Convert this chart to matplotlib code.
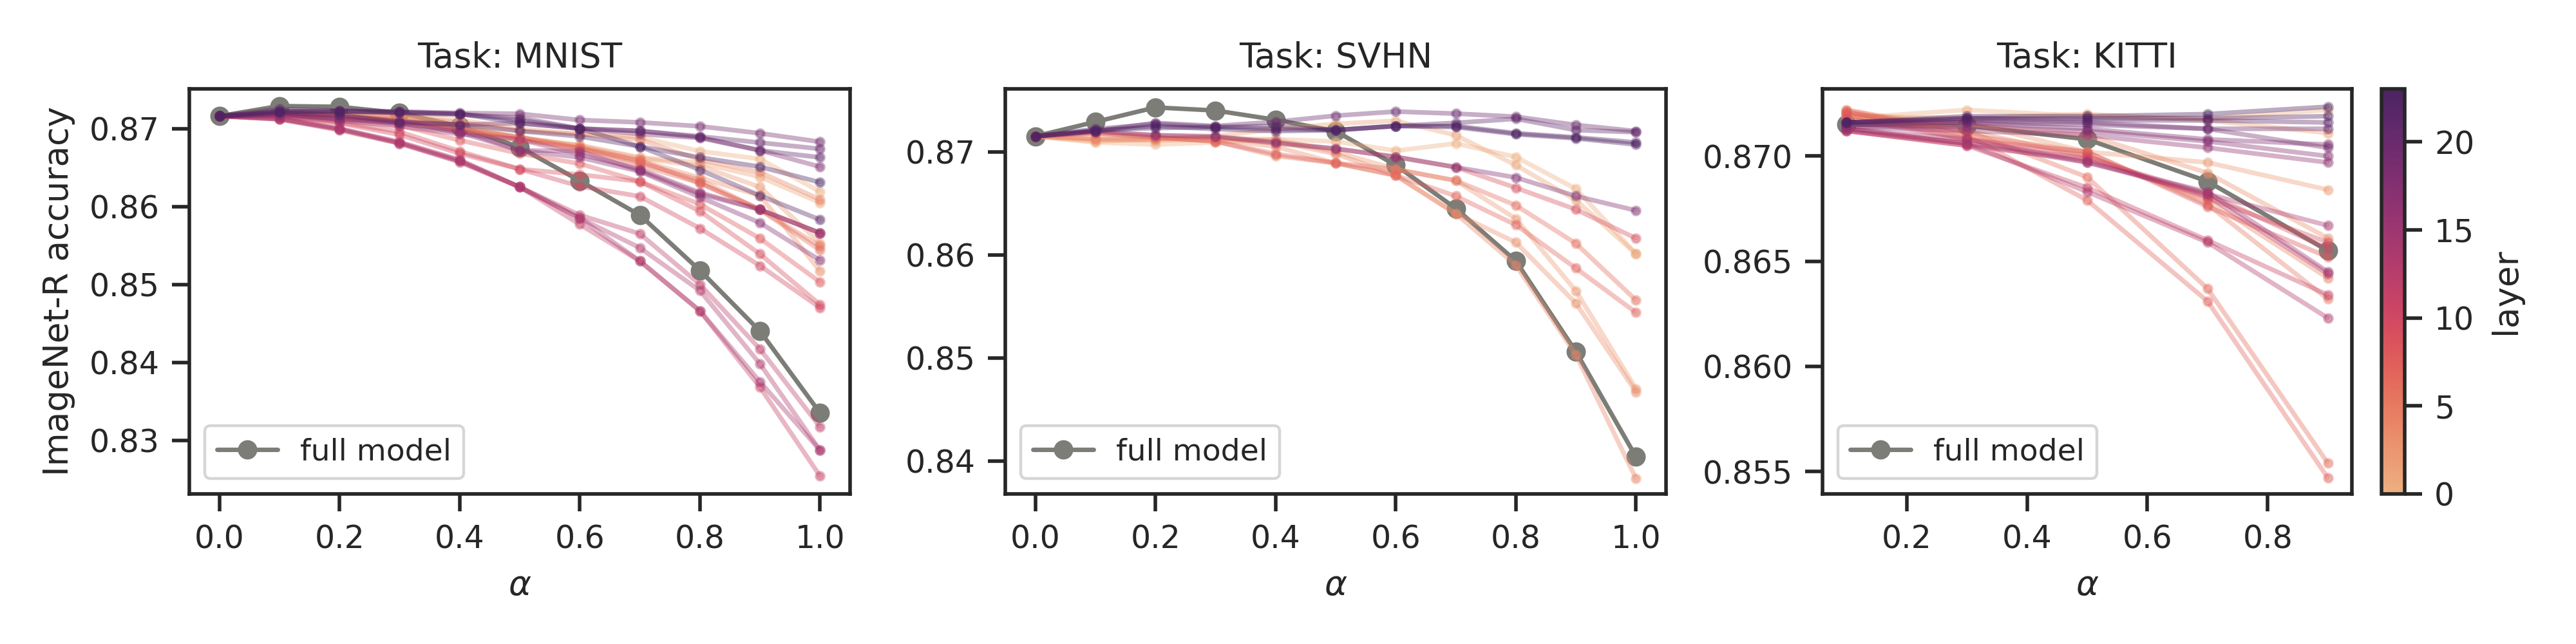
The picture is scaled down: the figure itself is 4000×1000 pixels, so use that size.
import matplotlib
matplotlib.use('Agg')
import matplotlib.pyplot as plt
import numpy as np
import seaborn as sns

sns.set_theme(context='paper', style='ticks')

#-----data-----#
alpha_mnist = [0.0, 0.1, 0.2, 0.3, 0.4, 0.5, 0.6, 0.7, 0.8, 0.9, 1.0]
alpha_svhn = [0.0, 0.1, 0.2, 0.3, 0.4, 0.5, 0.6, 0.7, 0.8, 0.9, 1.0]
alpha_kitti = [0.1, 0.3, 0.5, 0.7, 0.9]

full_mnist = [.8716, .8729, .8728, .8720, .8703, .8676, .8633, .8589, .8518, .8440, .8335]
full_svhn = [.8715, .8729, .8743, .8740, .8731, .8720, .8687, .8645, .8594, .8506, .8404]
full_kitti = [.8715, .87145, .8708, .8688, .8655]

# layer -> accuracy per alpha
layers_mnist = {
    0: [.8716, .8722, .8720, .8718, .8711, .8700, .8693, .8689, .8671, .8661, .8619],
    1: [.8716, .8720, .8718, .8715, .8704, .8688, .8679, .8663, .8656, .8638, .8605],
    2: [.8716, .8720, .8717, .8712, .8702, .8689, .8678, .8662, .8652, .8625, .8553],
    3: [.8716, .8719, .8716, .8711, .8700, .8688, .8677, .8659, .8637, .8614, .8517],
    4: [.8716, .8720, .8718, .8716, .8708, .8697, .8693, .8686, .8660, .8644, .8609],
    5: [.8716, .8718, .8715, .8710, .8698, .8686, .8675, .8656, .8634, .8596, .8549],
    6: [.8716, .8718, .8714, .8709, .8696, .8686, .8674, .8653, .8630, .8596, .8544],
    7: [.8716, .8719, .8716, .8711, .8700, .8689, .8675, .8659, .8630, .8596, .8566],
    8: [.8716, .8717, .8712, .8704, .8685, .8668, .8655, .8632, .8603, .8559, .8503],
    9: [.8716, .8716, .8708, .8696, .8671, .8648, .8641, .8632, .8594, .8539, .8474],
    10: [.8716, .8716, .8707, .8692, .8668, .8648, .8626, .8613, .8572, .8524, .8470],
    11: [.8716, .8712, .8698, .8681, .8657, .8625, .8577, .8530, .8466, .8368, .8254],
    12: [.8716, .8713, .8700, .8683, .8660, .8625, .8589, .8565, .8500, .8417, .8317],
    13: [.8716, .8713, .8700, .8682, .8659, .8625, .8585, .8547, .8492, .8398, .8287],
    14: [.8716, .8712, .8699, .8681, .8658, .8625, .8585, .8530, .8466, .8375, .8287],
    15: [.8716, .8716, .8710, .8703, .8693, .8686, .8667, .8648, .8618, .8596, .8566],
    16: [.8716, .8718, .8712, .8707, .8698, .8672, .8671, .8646, .8616, .8596, .8566],
    17: [.8716, .8718, .8713, .8707, .8695, .8672, .8663, .8645, .8612, .8579, .8531],
    18: [.8716, .8720, .8716, .8709, .8705, .8707, .8700, .8693, .8688, .8672, .8651],
    19: [.8716, .8722, .8723, .8722, .8720, .8719, .8711, .8708, .8703, .8694, .8683],
    20: [.8716, .8722, .8722, .8720, .8718, .8714, .8700, .8697, .8690, .8682, .8674],
    21: [.8716, .8725, .8723, .8721, .8719, .8711, .8700, .8697, .8689, .8672, .8663],
    22: [.8716, .8720, .8718, .8708, .8705, .8697, .8690, .8677, .8647, .8614, .8583],
    23: [.8716, .8722, .8722, .8721, .8719, .8707, .8700, .8677, .8663, .8651, .8631],
}

layers_svhn = {
    0: [.8715, .8709, .8707, .8709, .8712, .8710, .8701, .8708, .8695, .8664, .8601],
    1: [.8715, .8710, .8712, .8715, .8722, .8727, .8730, .8716, .8687, .8653, .8601],
    2: [.8715, .8712, .8712, .8713, .8712, .8700, .8683, .8672, .8635, .8565, .8470],
    3: [.8715, .8712, .8711, .8712, .8705, .8689, .8677, .8640, .8612, .8553, .8467],
    4: [.8715, .8713, .8713, .8714, .8710, .8698, .8677, .8640, .8590, .8503, .8383],
    6: [.8715, .8718, .8714, .8710, .8696, .8689, .8683, .8672, .8648, .8611, .8556],
    7: [.8715, .8718, .8714, .8710, .8698, .8689, .8677, .8657, .8629, .8587, .8544],
    9: [.8715, .8719, .8716, .8714, .8708, .8703, .8695, .8685, .8665, .8644, .8616],
    18: [.8715, .8720, .8716, .8715, .8709, .8703, .8695, .8685, .8675, .8657, .8643],
    20: [.8715, .8720, .8728, .8725, .8729, .8735, .8739, .8737, .8734, .8726, .8720],
    21: [.8715, .8722, .8727, .8724, .8722, .8721, .8725, .8728, .8732, .8721, .8719],
    22: [.8715, .8721, .8723, .8724, .8725, .8721, .8725, .8725, .8718, .8714, .8709],
    23: [.8715, .8720, .8725, .8722, .8720, .8721, .8725, .8724, .8717, .8713, .8707],
}

layers_kitti = {
    0: [.8718, .8722, .8719, .8718, .8722],
    1: [.8719, .8718, .8720, .8717, .8711],
    2: [.8720, .8716, .8702, .8697, .8684],
    3: [.8719, .8715, .8710, .8692, .8661],
    4: [.8722, .8712, .8700, .8679, .8642],
    5: [.8722, .8710, .8702, .8677, .8632],
    6: [.8721, .8712, .8690, .8637, .8554],
    7: [.8721, .8710, .8679, .8631, .8547],
    8: [.8720, .8708, .8702, .8676, .8652],
    9: [.8718, .8708, .8700, .8680, .8659],
    10: [.8713, .8706, .8699, .8682, .8656],
    11: [.8712, .8705, .8685, .8660, .8634],
    12: [.8712, .8705, .8698, .8681, .8644],
    13: [.8712, .8706, .8683, .8659, .8623],
    14: [.8713, .8706, .8697, .8682, .8667],
    15: [.8713, .8708, .8697, .8683, .8645],
    16: [.8714, .8712, .8710, .8704, .8697],
    17: [.8714, .8714, .8712, .8707, .8700],
    18: [.8715, .8716, .8713, .8708, .87055],
    19: [.8716, .8717, .8716, .8713, .8704],
    20: [.8716, .8716, .8715, .8713, .8713],
    21: [.8716, .8718, .8717, .8717, .8716],
    22: [.8716, .8718, .8718, .8718, .8719],
    23: [.8716, .8719, .8719, .8720, .87235],
}

tasks = ['MNIST', 'SVHN', 'KITTI']
alphas = [alpha_mnist, alpha_svhn, alpha_kitti]
fulls = [full_mnist, full_svhn, full_kitti]
layers = [layers_mnist, layers_svhn, layers_kitti]

GREY = '#7d7d78'
cmap = sns.color_palette('flare', as_cmap=True)
norm = plt.Normalize(0, 23)

#-----figure and axes-----#
fig = plt.figure(figsize=(10, 2.5), dpi=400)
W, H = 4000, 1000
boxes = [(294, 1320), (1561, 2587), (2830, 3652)]
top, bottom = 138, 767
ylims = [(0.8231, 0.8751), (0.8368, 0.8761), (0.85393, 0.8732)]

for i in range(3):
    x0, x1 = boxes[i]
    ax = fig.add_axes([x0 / W, 1 - bottom / H, (x1 - x0) / W, (bottom - top) / H])
    ax.plot(alphas[i], fulls[i], '-o', color=GREY, lw=1.25, ms=5.4, mew=0, label='full model', zorder=2)
    for layer, acc in layers[i].items():
        ax.plot(alphas[i], acc, '-o', color=cmap(norm(layer)), lw=1.3, ms=2.2, mew=0.8,
                alpha=0.38, zorder=3)
    ax.set_ylim(*ylims[i])
    ax.set_title('Task: ' + tasks[i])
    ax.set_xlabel(r'$\alpha$')
    ax.legend(loc='lower left', handletextpad=0.75, fontsize=8.5)
    if i == 0:
        ax.set_ylabel('ImageNet-R accuracy')
        ax.set_yticks([0.83, 0.84, 0.85, 0.86, 0.87])
    elif i == 1:
        ax.set_yticks([0.84, 0.85, 0.86, 0.87])
    else:
        ax.set_yticks([0.855, 0.860, 0.865, 0.870])

# colorbar on the right
cax = fig.add_axes([3698 / W, 1 - bottom / H, 36 / W, (bottom - top) / H])
sm = plt.cm.ScalarMappable(norm=norm, cmap=cmap)
cb = fig.colorbar(sm, cax=cax)
cb.set_label('layer')
cb.set_ticks([0, 5, 10, 15, 20])

fig.savefig('out.png', dpi=400)
